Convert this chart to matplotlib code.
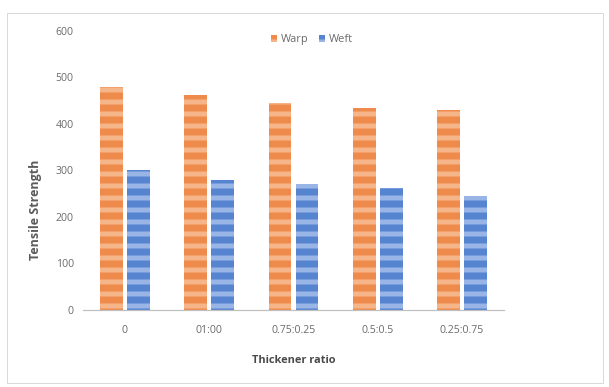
import matplotlib.pyplot as plt
import numpy as np
from matplotlib.patches import Rectangle


categories = ["0", "01:00", "0.75:0.25", "0.5:0.5", "0.25:0.75"]
warp = [480, 462, 445, 435, 430]
weft = [300, 280, 270, 262, 245]

plt.rcParams['font.family'] = 'Open Sans'
plt.rcParams['hatch.linewidth'] = 5.0

fig = plt.figure(figsize=(609 / 72, 387 / 72), dpi=72)
ax = fig.add_axes([0.136, 0.199, 0.692, 0.721])

# light frame around the whole chart area
fig.patches.append(Rectangle((7 / 609, 4 / 387), 596 / 609, 370 / 387,
                             transform=fig.transFigure, fill=False,
                             edgecolor='#D9D9D9', linewidth=1))

x = np.arange(len(categories))
w = 0.27
ax.bar(x - 0.16, warp, w, color='#EE8A4C', hatch='-', edgecolor='#F6B589',
       linewidth=0, label='Warp')
ax.bar(x + 0.16, weft, w, color='#5784D0', hatch='-', edgecolor='#98B5E6',
       linewidth=0, label='Weft')

ax.set_xlim(-0.5, 4.5)
ax.set_ylim(0, 600)
ax.set_yticks(range(0, 601, 100))
ax.set_xticks(x)
ax.set_xticklabels(categories)

for s in ['top', 'right', 'left']:
    ax.spines[s].set_visible(False)
ax.spines['bottom'].set_color('#BFBFBF')
ax.spines['bottom'].set_linewidth(1.2)
ax.tick_params(axis='both', length=0, labelsize=10.5, colors='#6B6B6B')
ax.tick_params(axis='y', pad=9)
ax.tick_params(axis='x', pad=15)

ax.set_ylabel('Tensile Strength', fontsize=12.5, fontweight='bold', color='#5A5A5A')
ax.yaxis.set_label_coords(-0.097, 0.36)
ax.set_xlabel('Thickener ratio', fontsize=11, fontweight='bold', color='#4A4A4A')
ax.xaxis.set_label_coords(0.5, -0.161)

ax.legend(loc='center', bbox_to_anchor=(0.544, 0.968), ncol=2, frameon=False,
          fontsize=11, labelcolor='#6B6B6B', handlelength=0.55, handleheight=0.55,
          handletextpad=0.35, columnspacing=0.9)

fig.savefig('out.png', dpi=72)
